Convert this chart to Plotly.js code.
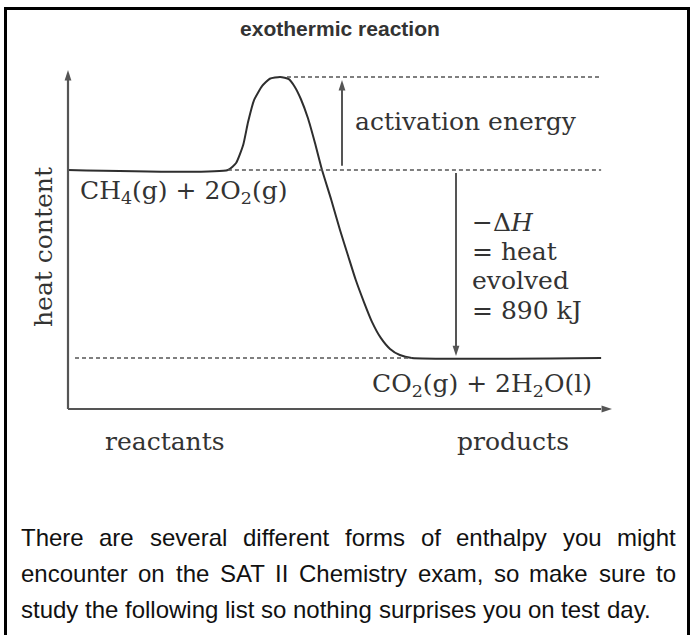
<!DOCTYPE html>
<html>
<head>
<meta charset="utf-8">
<script src="https://cdn.plot.ly/plotly-3.0.1.min.js"></script>
<style>html,body{margin:0;padding:0;background:#fff;}</style>
</head>
<body>
<div id="chart" style="width:694px;height:635px"></div>
<script>
// ---------- data ----------
const progress    = [0, 29.4, 30.9, 32.2, 33.1, 34.2, 35.7, 37.1, 39.0, 40.6, 41.7, 42.8, 44.1, 45.4, 46.7, 48.4, 50.0, 51.5, 52.9, 54.4, 55.9, 57.5, 59.2, 61.0, 63.2, 98.0];
const heatContent = [890, 890, 923, 1008, 1117, 1221, 1288, 1322, 1330, 1320, 1283, 1226, 1136, 1018, 890, 748, 606, 483, 369, 265, 170, 95, 43, 14, 0, 0];
const reactantLevel = 890;
const peakLevel = 1330;
const productLevel = 0;
const axisLabels = ['reactants', 'products'];
const reactantFormula = 'CH<sub>4</sub>(g) + 2O<sub>2</sub>(g)';
const productFormula = 'CO<sub>2</sub>(g) + 2H<sub>2</sub>O(l)';
const deltaHLines = ['\u2212\u0394<i>H</i>', '= heat', 'evolved', '= 890 kJ'];
const titleText = 'exothermic reaction';
const yTitle = 'heat content';
const activationText = 'activation energy';
const paragraphLines = [
  'There are several different forms of enthalpy you might',
  'encounter on the SAT II Chemistry exam, so make sure to',
  'study the following list so nothing surprises you on test day.'
];

// ---------- geometry ----------
const W = 694, H = 635;
const X0 = 68, SX = 5.44;          // pixel of progress 0, pixels per progress unit
const Y0 = 358, SY = 188 / 890;    // pixel of heat 0, pixels per kJ
const px2x = p => (p - X0) / SX;
const py2y = p => (Y0 - p) / SY;
const pX = p => p / W;
const pY = p => 1 - p / H;

const ctx = document.createElement('canvas').getContext('2d');
const titleFamily = '"Liberation Sans", Arial, sans-serif';
ctx.font = 'bold 100px ' + titleFamily;
const titleSize = 100 * 200 / ctx.measureText(titleText).width;

const SERIF = '"DejaVu Serif", "Liberation Serif", serif';
const SANS = '"Liberation Sans", Arial, sans-serif';
const serifFont = {family: SERIF, size: 25, color: '#333'};
const LINE = '#2e2e2e', GREY = '#555';
const last = progress.length - 1;

const xAxisY = py2y(409);
const axisTopY = py2y(70);
const axisRightX = px2x(612);
const actX = px2x(342), dhX = px2x(456);
const actTop = peakLevel - 14, actBottom = reactantLevel + 20;
const dhTop = reactantLevel - 14, dhBottom = productLevel + 9;

const seg = (x, y, color, width, dash) => ({x: x, y: y, mode: 'lines', hoverinfo: 'skip',
  line: {color: color, width: width, dash: dash || 'solid'}});

const traces = [
  // energy profile
  {x: progress, y: heatContent, mode: 'lines', hoverinfo: 'skip', line: {color: LINE, width: 2, shape: 'spline', smoothing: 0.5}},
  // dashed reference levels
  seg([px2x(287), progress[last]], [peakLevel, peakLevel], GREY, 1.6, '4px,3px'),
  seg([progress[1], progress[last]], [reactantLevel, reactantLevel], GREY, 1.6, '4px,3px'),
  seg([px2x(75), progress[last - 1]], [productLevel, productLevel], GREY, 1.6, '4px,3px'),
  // axes
  seg([0, 0], [xAxisY, axisTopY - 25], GREY, 2.2),
  seg([0, axisRightX - 2], [xAxisY, xAxisY], GREY, 2.2),
  // energy arrows
  seg([actX, actX], [actBottom, actTop - 20], GREY, 2),
  seg([dhX, dhX], [dhTop, dhBottom + 20], GREY, 2),
  // arrow heads
  {x: [0, axisRightX, actX, dhX], y: [axisTopY, xAxisY, actTop, dhBottom], mode: 'markers', hoverinfo: 'skip',
   marker: {symbol: 'arrow', size: 11, angle: [0, 90, 0, 180], color: GREY, line: {width: 0}}}
];

function label(text, xpx, ypx, xanchor, font, extra) {
  return Object.assign({text: text, x: pX(xpx), y: pY(ypx), xref: 'paper', yref: 'paper', xanchor: xanchor, yanchor: 'middle',
    showarrow: false, font: font, borderpad: 0, borderwidth: 0}, extra || {});
}

const annotations = [
  label(titleText, 340, 29, 'center', {family: titleFamily, size: titleSize, weight: 'bold', color: '#333'}),
  label(activationText, 355, 122, 'left', serifFont),
  label(reactantFormula, 80, 192, 'left', serifFont),
  label(productFormula, 482, 385, 'center', serifFont),
  label(yTitle, 43, 247, 'center', serifFont, {textangle: -90}),
  label(axisLabels[0], 165, 441, 'center', serifFont),
  label(axisLabels[1], 513, 441, 'center', serifFont)
];
const dhCenters = [222, 251, 280, 310];
deltaHLines.forEach((t, i) => annotations.push(label(t, 472, dhCenters[i], 'left', serifFont)));

// justified paragraph
const paraSize = 24, paraL = 21, paraR = 676;
const paraCenters = [537, 573, 609];
ctx.font = paraSize + 'px "Liberation Sans"';
paragraphLines.forEach((line, i) => {
  const words = line.split(' ');
  const widths = words.map(w => ctx.measureText(w).width);
  const sum = widths.reduce((a, b) => a + b, 0);
  const justify = i < paragraphLines.length - 1;
  const gap = justify ? (paraR - paraL - sum) / (words.length - 1) : ctx.measureText(' ').width;
  let x = paraL;
  words.forEach((w, j) => {
    annotations.push(label(w, x, paraCenters[i], 'left', {family: SANS, size: paraSize, color: '#111'}));
    x += widths[j] + gap;
  });
});

const shapes = [
  {type: 'line', xref: 'paper', yref: 'paper', x0: pX(5.5), x1: pX(5.5), y0: pY(7), y1: 0, line: {color: '#000', width: 3}},
  {type: 'line', xref: 'paper', yref: 'paper', x0: pX(4), x1: pX(690), y0: pY(8.5), y1: pY(8.5), line: {color: '#000', width: 3}},
  {type: 'line', xref: 'paper', yref: 'paper', x0: pX(688.5), x1: pX(688.5), y0: pY(7), y1: 0, line: {color: '#000', width: 3}}
];

const layout = {
  width: W, height: H, autosize: false,
  margin: {l: 0, r: 0, t: 0, b: 0, pad: 0},
  paper_bgcolor: '#fff', plot_bgcolor: '#fff',
  showlegend: false,
  xaxis: {range: [px2x(0), px2x(W)], visible: false, fixedrange: true},
  yaxis: {range: [py2y(H), py2y(0)], visible: false, fixedrange: true},
  annotations: annotations,
  shapes: shapes
};
Plotly.newPlot('chart', traces, layout, {staticPlot: true, displayModeBar: false});
</script>
</body>
</html>
